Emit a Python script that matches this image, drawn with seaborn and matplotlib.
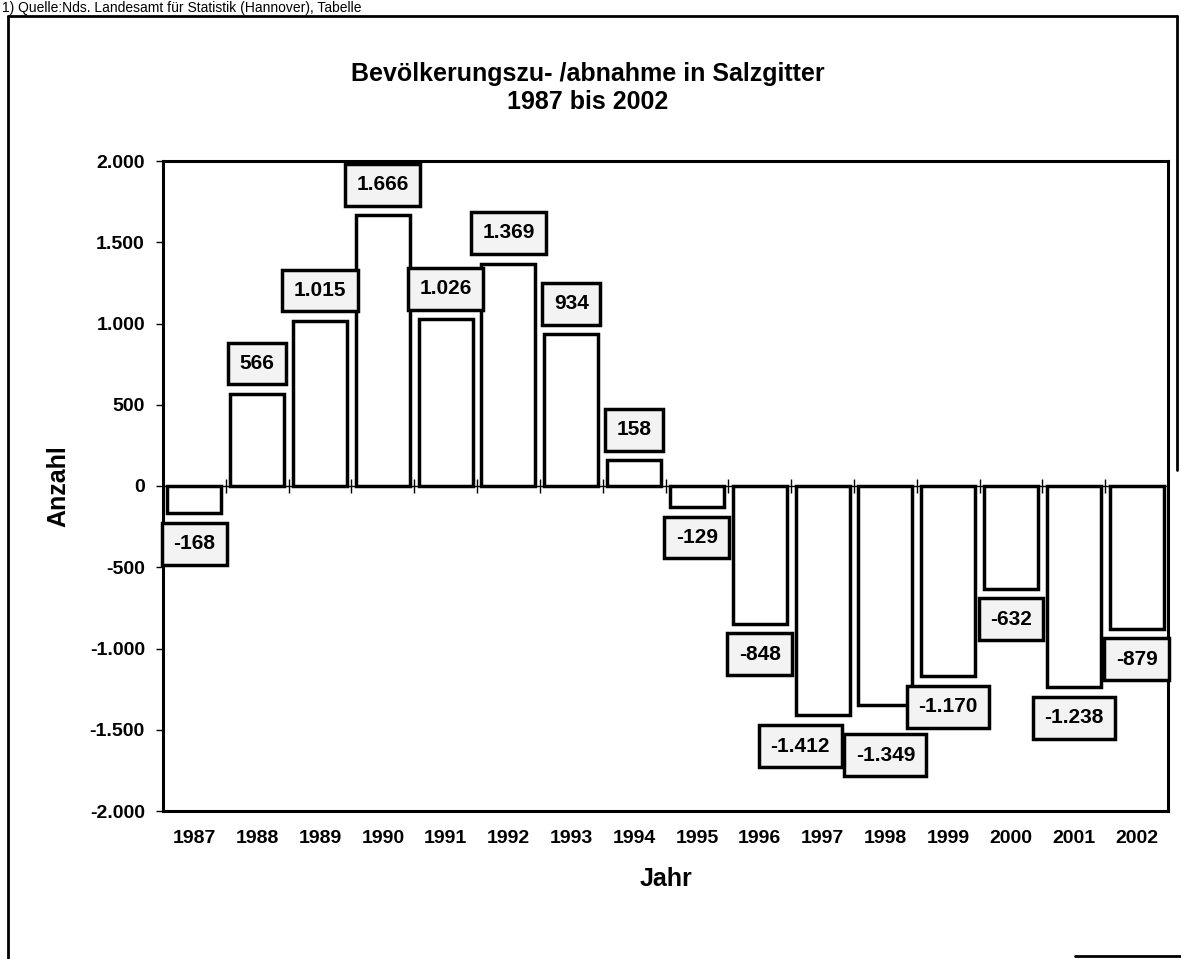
"""
Bevölkerungszu- /abnahme in Salzgitter, 1987 bis 2002 (Balkendiagramm).
"""
import numpy as np
import pandas as pd
import seaborn as sns
from matplotlib import pyplot as plt
from matplotlib.lines import Line2D
from matplotlib.ticker import FuncFormatter

# Daten
jahre = ["1987", "1988", "1989", "1990", "1991", "1992", "1993", "1994",
         "1995", "1996", "1997", "1998", "1999", "2000", "2001", "2002"]
saldo = [-168, 566, 1015, 1666, 1026, 1369, 934, 158,
         -129, -848, -1412, -1349, -1170, -632, -1238, -879]
y_ticks = [-2000, -1500, -1000, -500, 0, 500, 1000, 1500, 2000]

TITLE = "Bevölkerungszu- /abnahme in Salzgitter\n1987 bis 2002"
QUELLE = "1) Quelle:Nds. Landesamt für Statistik (Hannover), Tabelle"


def de_fmt(v, _pos=None):
    return f"{v:,.0f}".replace(",", ".")


def main():
    df = pd.DataFrame({"Jahr": jahre, "Anzahl": saldo})

    sns.set_theme(style="white", rc={
        "text.color": "black", "axes.labelcolor": "black",
        "xtick.color": "black", "ytick.color": "black",
    })
    plt.rcParams["font.family"] = ["Liberation Sans", "DejaVu Sans"]

    W, H = 1181, 959
    fig = plt.figure(figsize=(W / 100, H / 100), dpi=100)
    ax = fig.add_axes([163 / W, 1 - 811 / H, 1005 / W, 650 / H])

    sns.barplot(
        data=df, x="Jahr", y="Anzahl", ax=ax,
        color="white", edgecolor="black", linewidth=2.5, width=0.86,
        saturation=1,
    )

    ax.set_ylim(-2000, 2000)
    ax.set_xlim(-0.5, len(jahre) - 0.5)
    ax.set_yticks(y_ticks)
    ax.yaxis.set_major_formatter(FuncFormatter(de_fmt))
    ax.tick_params(axis="y", left=True, length=5, width=1, pad=8,
                   labelsize=14)
    ax.tick_params(axis="x", bottom=False, length=0, pad=14, labelsize=14)
    for lab in ax.get_xticklabels() + ax.get_yticklabels():
        lab.set_fontweight("bold")

    for sp in ax.spines.values():
        sp.set_color("black")
        sp.set_linewidth(2.2)

    # Kategorienachse bei 0 mit Teilstrichen zwischen den Jahren
    ax.axhline(0, color="black", lw=1, zorder=0.5)
    grenzen = np.arange(len(jahre) - 1) + 0.5
    ax.vlines(grenzen, -45, 45, color="black", lw=1, zorder=0.5)

    ax.set_xlabel("Jahr", fontsize=18, fontweight="bold", labelpad=14)
    ax.set_ylabel("Anzahl", fontsize=18, fontweight="bold", labelpad=14)

    # Datenbeschriftungen in Kästchen
    nudge = {"1997": (-16, 0), "1998": (0, -14)}
    for i, (j, v) in enumerate(zip(jahre, saldo)):
        dx, dy = nudge.get(j, (0, 0))
        off = 22 if v >= 0 else -22
        ax.annotate(
            de_fmt(v), xy=(i, v), xytext=(dx, off + dy),
            textcoords="offset points", ha="center", va="center",
            fontsize=15, fontweight="bold",
            bbox=dict(boxstyle="square,pad=0.55", facecolor="#f3f3f3",
                      edgecolor="black", linewidth=2.5),
        )

    fig.text(588 / W, 1 - 88 / H, TITLE, ha="center", va="center",
             fontsize=18, fontweight="bold", linespacing=1.25)

    # Quellenzeile oben
    fig.text(2 / W, 1 - 1 / H, QUELLE, ha="left", va="top", fontsize=10)

    # Rahmen um die Grafik (gescannt, teilweise)
    def px(x0, y0, x1, y1):
        fig.add_artist(Line2D([x0 / W, x1 / W], [1 - y0 / H, 1 - y1 / H],
                              transform=fig.transFigure, color="black",
                              lw=2))
    px(8, 16, 8, 959)
    px(8, 16, 1177, 16)
    px(1177, 16, 1177, 470)
    px(1075, 956, 1181, 956)

    fig.savefig("out.png", dpi=100)


if __name__ == "__main__":
    main()
